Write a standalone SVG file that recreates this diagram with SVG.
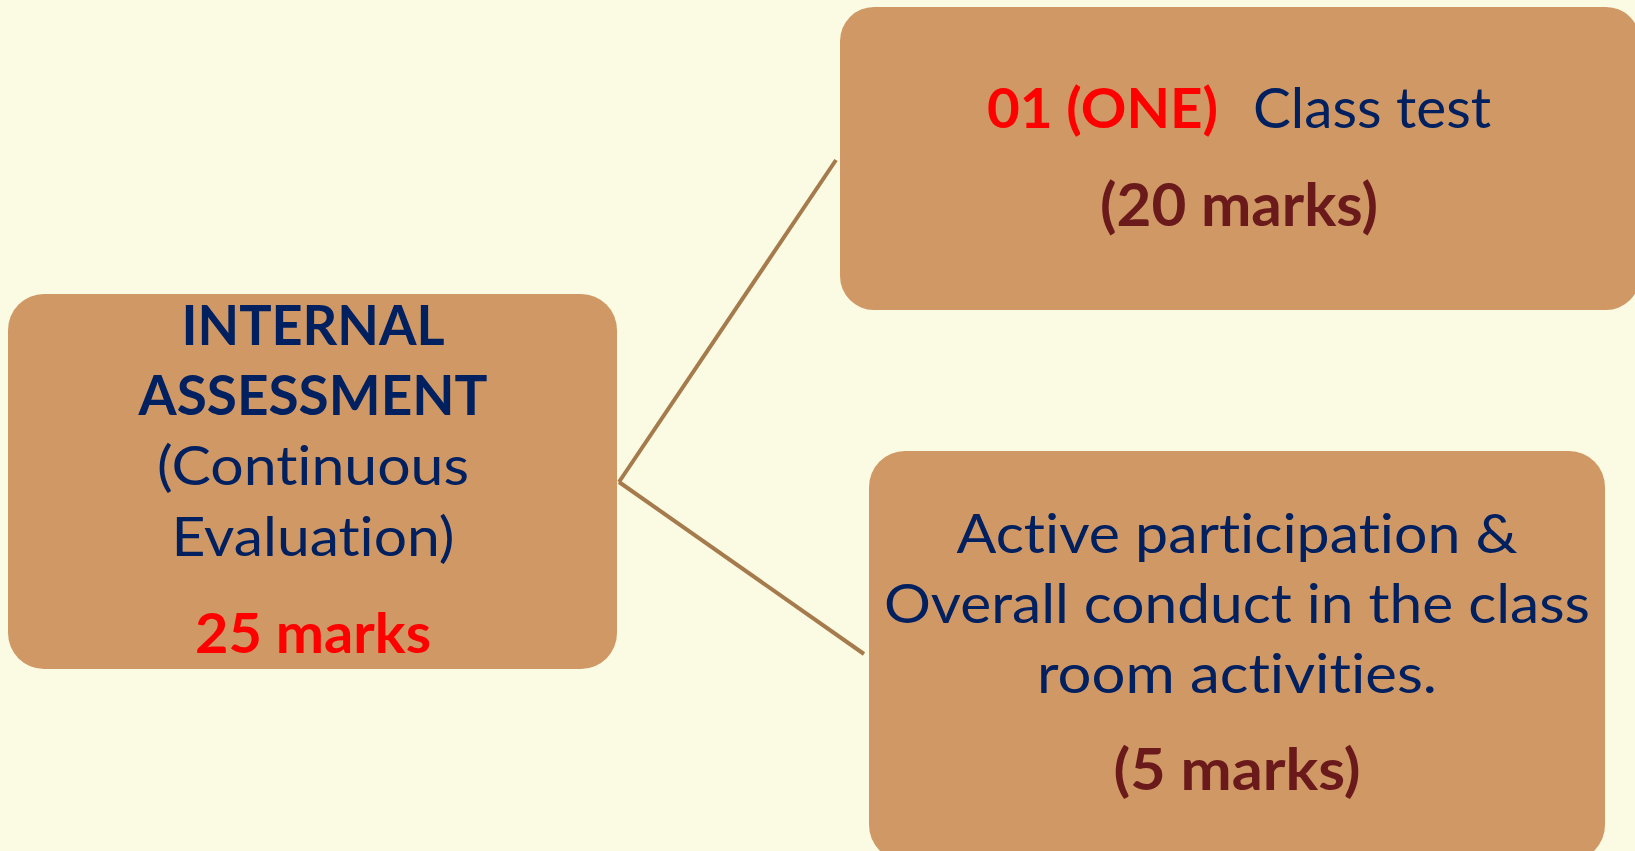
<svg xmlns="http://www.w3.org/2000/svg" width="1635" height="851" viewBox="0 0 1635 851">
  <style>
    .box { fill: #CF9865; }
    text { font-family: Lato, "Open Sans", "Liberation Sans", sans-serif; font-variant-ligatures: none; font-feature-settings: "liga" 0, "clig" 0; }
    .t { text-anchor: middle; }
    .navy { fill: #002060; }
    .red { fill: #FF0000; }
    .brown { fill: #6A1A1A; }
    .b { font-weight: bold; }
    .conn { stroke: #A57A4C; stroke-width: 4; fill: none; }
  </style>
  <rect x="0" y="0" width="1635" height="851" fill="#FBFAE2"/>
  <g id="connectors">
    <line class="conn" x1="619" y1="482" x2="836" y2="160"/>
    <line class="conn" x1="619" y1="482" x2="864" y2="654"/>
  </g>
  <g id="node-internal">
    <rect class="box" x="8" y="294" width="609" height="375" rx="36" ry="36"/>
    <text class="t navy b" x="313" y="345" font-size="56" textLength="263" lengthAdjust="spacingAndGlyphs">INTERNAL</text>
    <text class="t navy b" x="313" y="415" font-size="56" textLength="349" lengthAdjust="spacingAndGlyphs">ASSESSMENT</text>
    <text class="t navy" x="313" y="485" font-size="54" textLength="312" lengthAdjust="spacingAndGlyphs">(Continuous</text>
    <text class="t navy" x="313" y="556" font-size="54" textLength="283" lengthAdjust="spacingAndGlyphs">Evaluation)</text>
    <text class="t red b" x="313" y="653" font-size="56" textLength="236" lengthAdjust="spacingAndGlyphs">25 marks</text>
  </g>
  <g id="node-classtest">
    <rect class="box" x="840" y="7" width="800" height="303" rx="34" ry="34"/>
    <text class="red b" x="987" y="128" font-size="56" textLength="231" lengthAdjust="spacingAndGlyphs">01 (ONE)</text>
    <text class="navy" x="1253" y="128" font-size="56" textLength="238" lengthAdjust="spacingAndGlyphs">Class test</text>
    <text class="t brown b" x="1239" y="226" font-size="59" textLength="278" lengthAdjust="spacingAndGlyphs">(20 marks)</text>
  </g>
  <g id="node-participation">
    <rect class="box" x="869" y="451" width="736" height="410" rx="36" ry="36"/>
    <text class="t navy" x="1237" y="553" font-size="55" textLength="561" lengthAdjust="spacingAndGlyphs">Active participation &amp;</text>
    <text class="t navy" x="1237" y="623" font-size="55" textLength="706" lengthAdjust="spacingAndGlyphs">Overall conduct in the class</text>
    <text class="t navy" x="1237" y="693" font-size="55" textLength="400" lengthAdjust="spacingAndGlyphs">room activities.</text>
    <text class="t brown b" x="1237" y="790" font-size="58" textLength="247" lengthAdjust="spacingAndGlyphs">(5 marks)</text>
  </g>
</svg>
